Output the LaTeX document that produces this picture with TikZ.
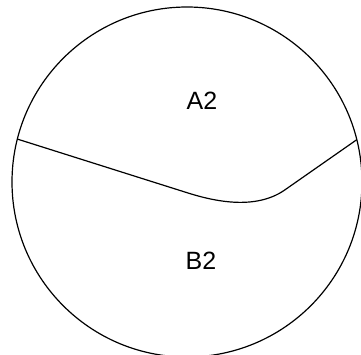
\documentclass[tikz,border=0pt]{standalone}
\usepackage{fontspec}
\setmainfont{Liberation Sans}
\usetikzlibrary{calc}
\begin{document}
\begin{tikzpicture}[x=1pt,y=1pt,
  outline/.style={draw=black,line width=1.2pt},
  region/.style={font=\fontsize{25}{29}\selectfont,inner sep=0pt}]
\useasboundingbox (0,0) rectangle (361,354);
\coordinate (C) at (187,172);
\draw[outline] (C) circle[radius=175];
\coordinate (L) at ($(C)+(165.8:175)$);
\coordinate (R) at ($(C)+(14:175)$);
\coordinate (P1) at (188,161);
\coordinate (P2) at (284,163.5);
\draw[outline,line join=round] (L) -- (P1) .. controls (215,152.5) and (255,144) .. (P2) -- (R);
\node[region] (a2) at (202,253) {A2};
\node[region] (b2) at (201,93) {B2};
\end{tikzpicture}
\end{document}
